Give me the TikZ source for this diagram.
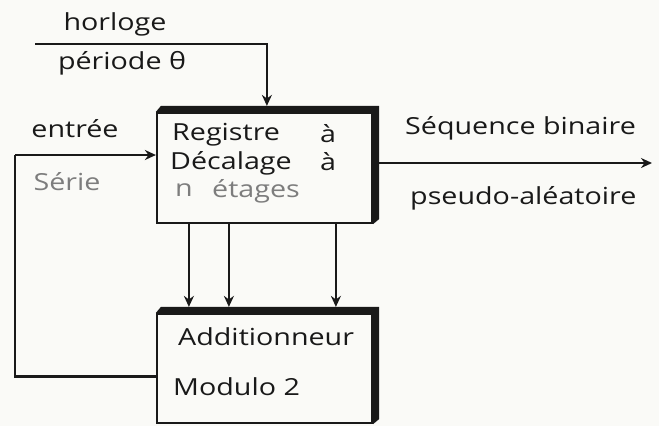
\documentclass[tikz,border=0pt]{standalone}
\usepackage{fontspec}
\setmainfont[FakeStretch=1.22]{Open Sans}
\usetikzlibrary{arrows.meta,calc}
\definecolor{ink}{RGB}{25,25,25}
\definecolor{faint}{RGB}{125,125,125}
\definecolor{paper}{RGB}{250,250,247}
\begin{document}
\begin{tikzpicture}[x=1pt,y=-1pt,
  box/.style={draw=ink,line width=2.2pt,minimum width=215pt,minimum height=110pt,inner sep=0pt},
  arr/.style={draw=ink,line width=2.2pt,-{Stealth[length=11pt,width=10pt]}},
  wire/.style={draw=ink,line width=2.2pt},
  lbl/.style={text=ink,font=\fontsize{23.5}{26}\selectfont,inner sep=0pt},
  dim/.style={lbl,text=faint}]
\fill[paper] (0,0) rectangle (659,426);
\useasboundingbox (0,0) rectangle (659,426);
% boxes
\node[box] (reg) at (264.5,168) {};
\node[box,minimum height=109pt] (add) at (264.5,368.5) {};
% thick shadows (top and right edges)
\foreach \b in {reg,add}{
  \fill[ink] (\b.north west) -- ++(5,-6) -- ($(\b.north east)+(6,-6)$)
    -- ($(\b.south east)+(6,-5)$) -- (\b.south east) -- (\b.north east) -- cycle;
}
% clock
\coordinate (clk) at (35,44);
\draw[arr] (clk) -| ([xshift=111pt,yshift=6pt]reg.north west);
% serial input and feedback
\coordinate (fb) at (15,155);
\draw[arr] (fb) -- (reg.west |- fb);
\draw[wire] (fb) |- ([yshift=-8pt]add.west);
% taps
\draw[arr] ([xshift=33pt]reg.south west) -- ([xshift=33pt,yshift=6pt]add.north west);
\draw[arr] ([xshift=73pt]reg.south west) -- ([xshift=73pt,yshift=6pt]add.north west);
\draw[arr] ([xshift=180pt]reg.south west) -- ([xshift=180pt,yshift=6pt]add.north west);
% output
\coordinate (out) at (652,163);
\draw[arr] ([xshift=6pt]reg.east |- out) -- (out);
% labels
\node[lbl] (hor) at (115,24) {horloge};
\node[lbl] (per) at (122,63) {période θ};
\node[lbl] (ent) at (75,129) {entrée};
\node[dim] (ser) at (67,182) {Série};
\node[lbl,anchor=west] (r1) at (172,135) {Registre};
\node[lbl] (r1a) at (328,134) {à};
\node[lbl,anchor=west] (r2) at (170,163) {Décalage};
\node[lbl] (r2a) at (328,162) {à};
\node[dim] (r3n) at (184,190) {n};
\node[dim,anchor=west] (r3) at (212,191) {étages};
\node[lbl,anchor=west] (s1) at (405,128) {Séquence binaire};
\node[lbl,anchor=west] (s2) at (410,198) {pseudo-aléatoire};
\node[lbl,anchor=west] (a1) at (178,337) {Additionneur};
\node[lbl,anchor=west] (a2) at (173,387) {Modulo 2};
\end{tikzpicture}
\end{document}
